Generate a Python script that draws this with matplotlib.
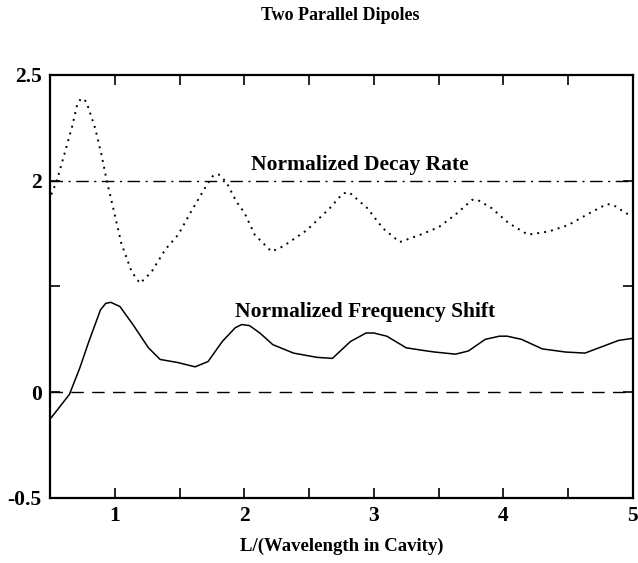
import matplotlib
matplotlib.use("Agg")
import matplotlib.pyplot as plt

plt.rcParams['font.family'] = ['Liberation Serif', 'DejaVu Serif']
plt.rcParams['font.weight'] = 'bold'

# decay rate (dotted) in axis units
decay_x = [0.51, 0.55, 0.62, 0.67, 0.71, 0.74, 0.78, 0.85, 0.90, 0.94, 0.99, 1.05, 1.13,
           1.195, 1.285, 1.39, 1.49, 1.59, 1.70, 1.76, 1.80, 1.86, 1.94, 2.0, 2.08, 2.21,
           2.30, 2.48, 2.66, 2.76, 2.81, 2.95, 3.07, 3.20, 3.36, 3.50, 3.63, 3.76, 3.80,
           3.91, 4.04, 4.19, 4.35, 4.50, 4.66, 4.80, 4.85, 4.95, 5.0]
decay_y = [1.87, 1.99, 2.29, 2.51, 2.72, 2.78, 2.75, 2.49, 2.23, 1.99, 1.73, 1.41, 1.14,
           1.03, 1.14, 1.35, 1.49, 1.71, 1.94, 2.05, 2.06, 1.99, 1.80, 1.70, 1.49, 1.33,
           1.38, 1.53, 1.74, 1.88, 1.89, 1.74, 1.55, 1.42, 1.49, 1.56, 1.68, 1.82, 1.82,
           1.74, 1.60, 1.49, 1.52, 1.58, 1.69, 1.78, 1.77, 1.69, 1.68]

# frequency shift (solid)
shift_x = [0.51, 0.65, 0.73, 0.80, 0.89, 0.93, 0.97, 1.04, 1.14, 1.26, 1.35, 1.49, 1.62,
           1.72, 1.83, 1.93, 1.98, 2.04, 2.12, 2.22, 2.38, 2.56, 2.68, 2.82, 2.94, 3.00,
           3.10, 3.25, 3.41, 3.47, 3.63, 3.73, 3.86, 3.97, 4.03, 4.14, 4.30, 4.48, 4.63,
           4.76, 4.89, 5.0]
shift_y = [-0.24, -0.02, 0.23, 0.48, 0.78, 0.84, 0.85, 0.81, 0.64, 0.42, 0.31, 0.28, 0.24,
           0.29, 0.48, 0.61, 0.64, 0.63, 0.56, 0.45, 0.37, 0.33, 0.32, 0.48, 0.56, 0.56,
           0.53, 0.42, 0.39, 0.38, 0.36, 0.39, 0.50, 0.53, 0.53, 0.50, 0.41, 0.38, 0.37,
           0.43, 0.49, 0.51]

ytick_pos = [-1, 0, 1, 2, 3]
ytick_labels = ['-0.5', '0', '', '2', '2.5']
xtick_pos = [1, 2, 3, 4, 5]

fig = plt.figure(figsize=(6.38, 5.63), dpi=100)
ax = fig.add_axes([0.0784, 0.1155, 0.9136, 0.7513])

ax.plot(decay_x, decay_y, color='black', linestyle=(0, (1, 2.6)), linewidth=1.4)
ax.plot(shift_x, shift_y, color='black', linewidth=1.1)
ax.axhline(2, color='black', linewidth=1.0, linestyle=(0, (9, 4, 1.5, 4)))
ax.axhline(0, color='black', linewidth=1.0, linestyle=(0, (9, 6)))

ax.text(2.89, 2.15, 'Normalized Decay Rate', fontsize=15.5, fontweight='bold',
        ha='center', va='center')
ax.text(2.93, 0.76, 'Normalized Frequency Shift', fontsize=15.5, fontweight='bold',
        ha='center', va='center')

ax.set_xlim(0.5, 5)
ax.set_ylim(-1, 3)
ax.set_xticks(xtick_pos)
ax.set_xticks([0.5, 1.5, 2.5, 3.5, 4.5], minor=True)
ax.set_yticks(ytick_pos)
ax.set_yticklabels(ytick_labels)
ax.tick_params(which='both', direction='in', top=True, right=True,
               length=7, width=1.2, labelsize=15.5, pad=6)
for lbl in ax.get_xticklabels() + ax.get_yticklabels():
    lbl.set_fontweight('bold')
for s in ax.spines.values():
    s.set_linewidth(1.6)

ax.set_xlabel('L/(Wavelength in Cavity)', fontsize=13.5, fontweight='bold', labelpad=8)
fig.text(0.534, 0.973, 'Two Parallel Dipoles', fontsize=13, fontweight='bold',
         ha='center', va='center')

fig.savefig('out.png', dpi=100)
